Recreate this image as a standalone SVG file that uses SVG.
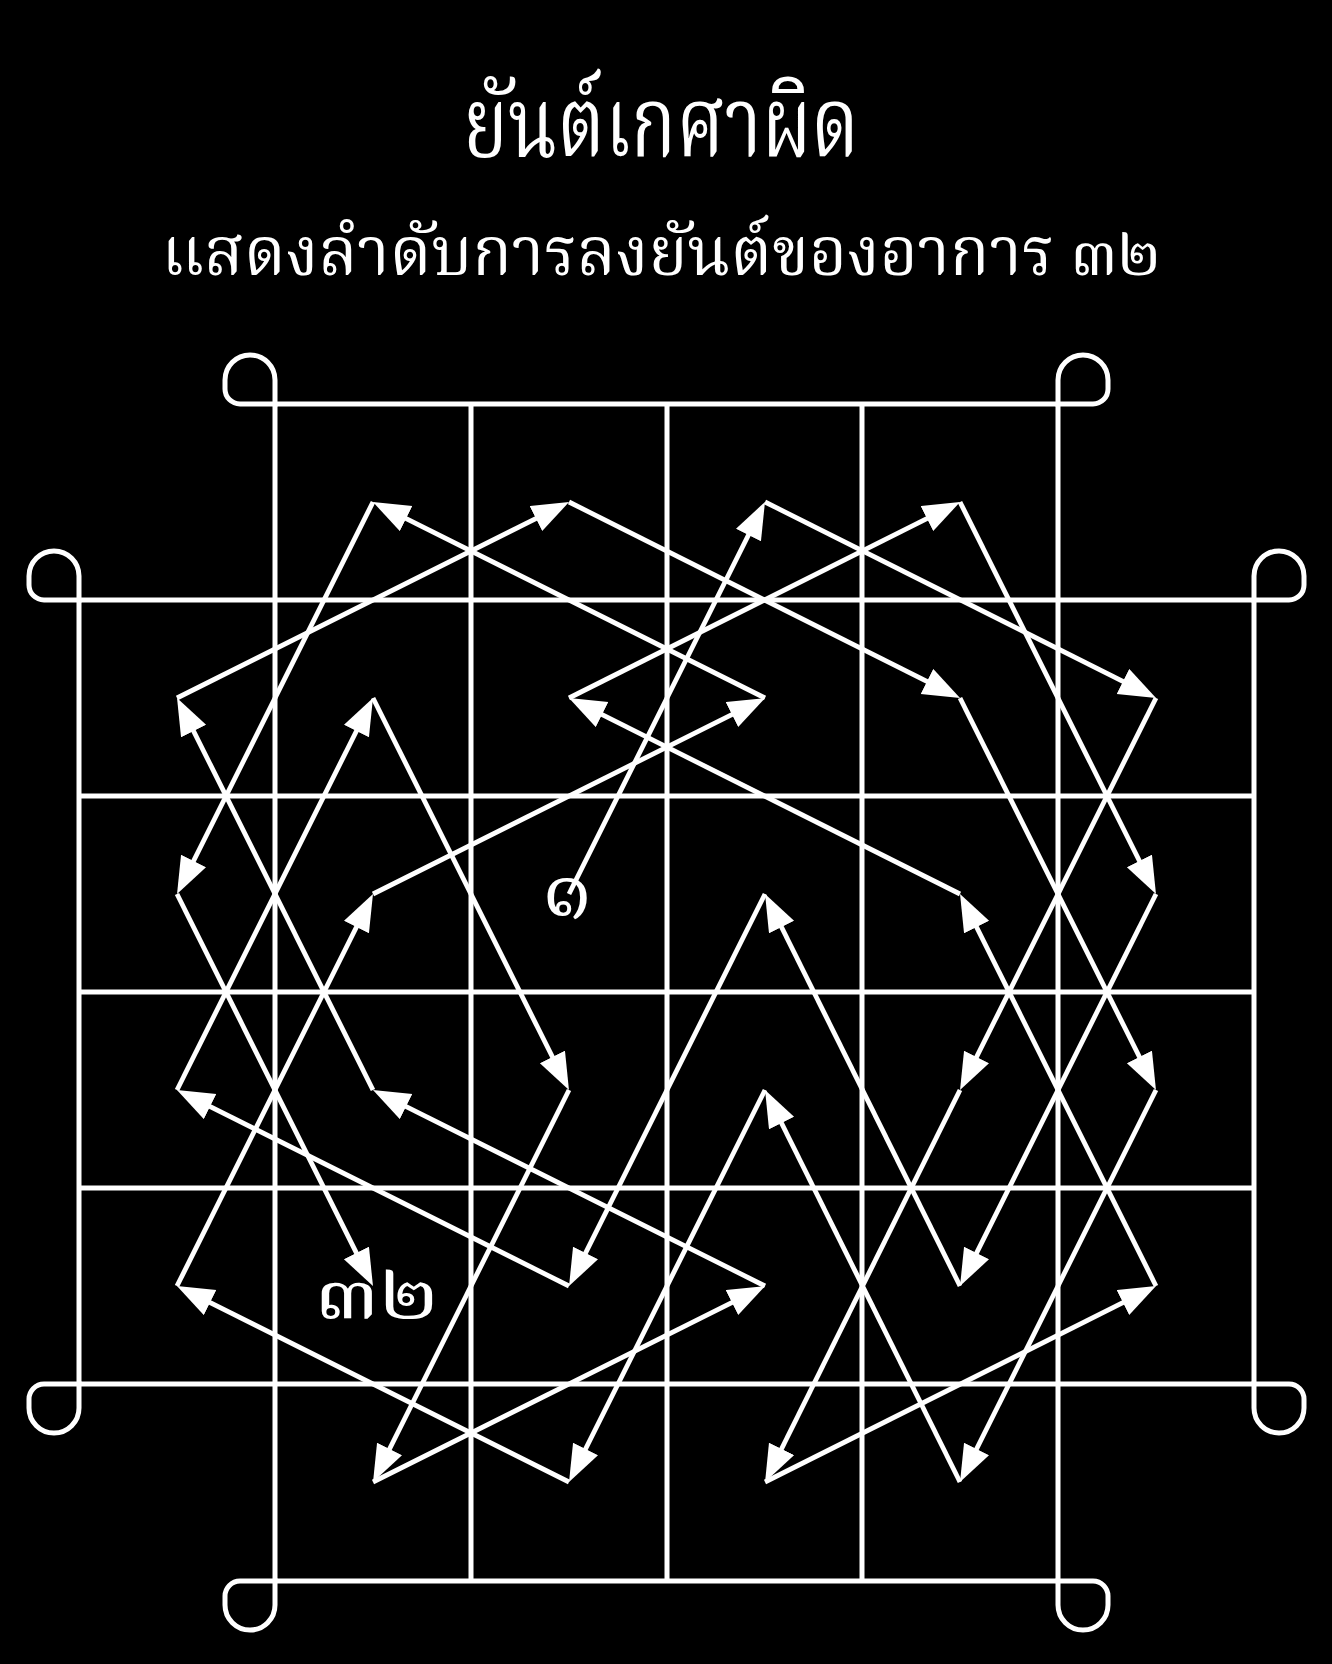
<svg xmlns="http://www.w3.org/2000/svg" width="1332" height="1664" viewBox="0 0 1332 1664">
<style>
.g{stroke:#fff;stroke-width:5;fill:none}
.lp{stroke:#fff;stroke-width:5;fill:none}
.a{stroke:#fff;stroke-width:4.8;fill:none;marker-end:url(#ah)}
.t{fill:#fff;font-family:"Noto Serif Thai","Norasi","Loma","Garuda","Noto Sans Thai","Noto Sans",serif;text-anchor:middle}
</style>
<defs>
<marker id="ah" markerUnits="userSpaceOnUse" markerWidth="40" markerHeight="30" refX="25" refY="14" orient="auto"><path d="M0,0 L37,14 L0,28 Z" fill="#fff"/></marker>
</defs>
<rect width="1332" height="1664" fill="#000"/>
<g id="title">
<text class="t" x="661" y="156" font-size="98" textLength="396" lengthAdjust="spacingAndGlyphs">ยันต์เกศาผิด</text>
<text class="t" x="661" y="275" font-size="68" textLength="999" lengthAdjust="spacingAndGlyphs">แสดงลำดับการลงยันต์ของอาการ ๓๒</text>
</g>
<g id="grid" class="g">
<path d="M275,404H1058M275,1581H1058M79,600H1254M79,796H1254M79,992H1254M79,1188H1254M79,1384H1254"/>
<path d="M275,404V1581M471,404V1581M667,404V1581M862,404V1581M1058,404V1581M79,600V1384M1254,600V1384"/>
</g>
<g id="loops" class="lp">
<path d="M275,404V380A25,25 0 0 0 225,380V389A15,15 0 0 0 240,404Z"/>
<path d="M1058,404V380A25,25 0 0 1 1108,380V389A15,15 0 0 1 1093,404Z"/>
<path d="M79,600V576A25,25 0 0 0 29,576V585A15,15 0 0 0 44,600Z"/>
<path d="M1254,600V576A25,25 0 0 1 1304,576V585A15,15 0 0 1 1289,600Z"/>
<path d="M79,1384V1408A25,25 0 0 1 29,1408V1399A15,15 0 0 1 44,1384Z"/>
<path d="M1254,1384V1408A25,25 0 0 0 1304,1408V1399A15,15 0 0 0 1289,1384Z"/>
<path d="M275,1581V1605A25,25 0 0 1 225,1605V1596A15,15 0 0 1 240,1581Z"/>
<path d="M1058,1581V1605A25,25 0 0 0 1108,1605V1596A15,15 0 0 0 1093,1581Z"/>
</g>
<g id="connectors" class="a">
<line x1="569" y1="894" x2="759.6" y2="512.7"/>
<line x1="765" y1="502" x2="1145.3" y2="692.6"/>
<line x1="1156" y1="698" x2="965.4" y2="1079.3"/>
<line x1="960" y1="1090" x2="770.4" y2="1471.3"/>
<line x1="765" y1="1482" x2="1145.3" y2="1291.4"/>
<line x1="1156" y1="1286" x2="965.4" y2="904.7"/>
<line x1="960" y1="894" x2="579.7" y2="703.4"/>
<line x1="569" y1="698" x2="949.3" y2="507.4"/>
<line x1="960" y1="502" x2="1150.6" y2="883.3"/>
<line x1="1156" y1="894" x2="965.4" y2="1275.3"/>
<line x1="960" y1="1286" x2="770.4" y2="904.7"/>
<line x1="765" y1="894" x2="574.4" y2="1275.3"/>
<line x1="569" y1="1286" x2="187.7" y2="1095.4"/>
<line x1="177" y1="1090" x2="367.6" y2="708.7"/>
<line x1="373" y1="698" x2="563.6" y2="1079.3"/>
<line x1="569" y1="1090" x2="378.4" y2="1471.3"/>
<line x1="373" y1="1482" x2="754.3" y2="1291.4"/>
<line x1="765" y1="1286" x2="383.7" y2="1095.4"/>
<line x1="373" y1="1090" x2="182.4" y2="708.7"/>
<line x1="177" y1="698" x2="558.3" y2="507.4"/>
<line x1="569" y1="502" x2="949.3" y2="692.6"/>
<line x1="960" y1="698" x2="1150.6" y2="1079.3"/>
<line x1="1156" y1="1090" x2="965.4" y2="1471.3"/>
<line x1="960" y1="1482" x2="770.4" y2="1100.7"/>
<line x1="765" y1="1090" x2="574.4" y2="1471.3"/>
<line x1="569" y1="1482" x2="187.7" y2="1291.4"/>
<line x1="177" y1="1286" x2="367.6" y2="904.7"/>
<line x1="373" y1="894" x2="754.3" y2="703.4"/>
<line x1="765" y1="698" x2="383.7" y2="507.4"/>
<line x1="373" y1="502" x2="182.4" y2="883.3"/>
<line x1="177" y1="894" x2="367.6" y2="1275.3"/>
</g>
<g id="start">
<text class="t" x="567" y="916" font-size="80">๑</text>
</g>
<g id="end">
<text class="t" x="377" y="1318" font-size="76" textLength="123" lengthAdjust="spacingAndGlyphs">๓๒</text>
</g>
</svg>
